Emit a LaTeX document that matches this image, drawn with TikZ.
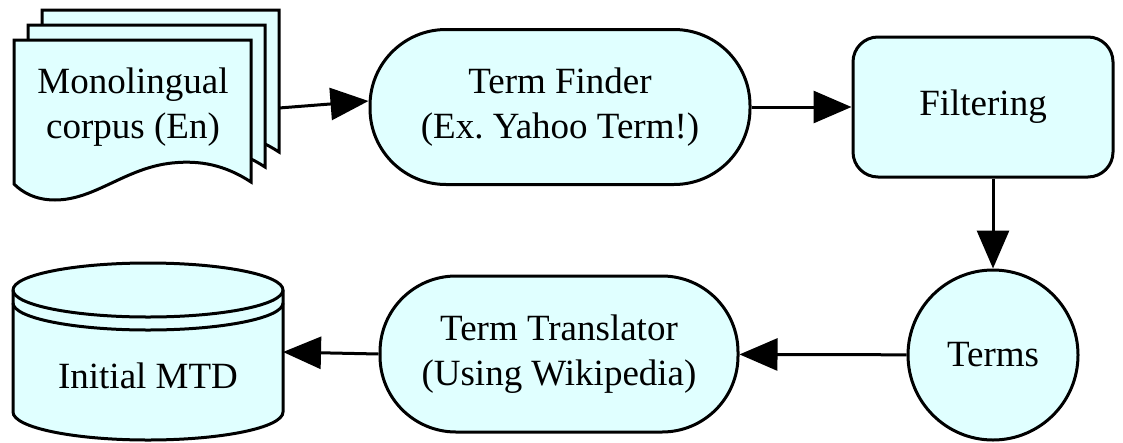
\documentclass[tikz,border=0pt]{standalone}
\usepackage{fontspec}
\setmainfont{Liberation Serif}
\usetikzlibrary{arrows.meta,calc}
\definecolor{boxfill}{HTML}{E0FFFF}
\tikzset{
  shapeline/.style={draw=black,line width=3pt,fill=boxfill},
  stadium/.style={shapeline,rectangle,rounded corners=76pt,minimum width=#1,minimum height=155pt,align=center,inner sep=0pt},
  roundbox/.style={shapeline,rectangle,rounded corners=25pt,minimum width=260pt,minimum height=140pt,align=center},
  termcircle/.style={shapeline,circle,minimum size=170pt,inner sep=0pt},
  label/.style={align=center,inner sep=0pt},
  conn/.style={draw=black,line width=3pt,-{Triangle[length=38pt,width=32pt]}},
}
\begin{document}
\begin{tikzpicture}[x=1pt,y=-1pt,font=\fontsize{37}{45}\selectfont]
\useasboundingbox (0,0) rectangle (1123,442);
% document stack
\foreach \dx/\dy in {28/-30,14/-15,0/0}{
  \begin{scope}[shift={(\dx,\dy)}]
    \path[shapeline] (14,40) -- (251,40) -- (251,182)
      .. controls (225,165) and (200,160) .. (172,163)
      .. controls (125,168) and (95,200) .. (55,200)
      .. controls (35,200) and (22,192) .. (14,184) -- cycle;
  \end{scope}
}
\node[label] (doc) at (133,107) {Monolingual\\corpus (En)};
\coordinate (docE) at (279,108);
% cylinder
\path[shapeline] (13,290) arc[start angle=180,end angle=360,x radius=135,y radius=27]
  -- (283,412) arc[start angle=0,end angle=180,x radius=135,y radius=28] -- cycle;
\draw[line width=3pt] (13,290) arc[start angle=180,end angle=0,x radius=135,y radius=27];
\draw[line width=3pt] (13,303) arc[start angle=180,end angle=0,x radius=135,y radius=27];
\node[label] (mtd) at (148,376) {Initial MTD};
\coordinate (mtdE) at (283,352);
% process nodes
\node[stadium=380pt] (finder) at (560,107) {Term Finder\\(Ex.\ Yahoo Term!)};
\node[roundbox] (filter) at (983,107) {Filtering};
\node[termcircle] (terms) at (993,355) {Terms};
\node[stadium=358pt,minimum height=156pt] (trans) at (559,354) {Term Translator\\(Using Wikipedia)};
% connectors
\draw[conn] (docE) -- ($(finder.west)+(0,-6)$);
\draw[conn] (finder) -- (filter);
\draw[conn] ($(filter.south)+(10,0)$) -- (terms.north);
\draw[conn] (terms) -- (trans);
\draw[conn] (trans.west) -- (mtdE);
\end{tikzpicture}
\end{document}
